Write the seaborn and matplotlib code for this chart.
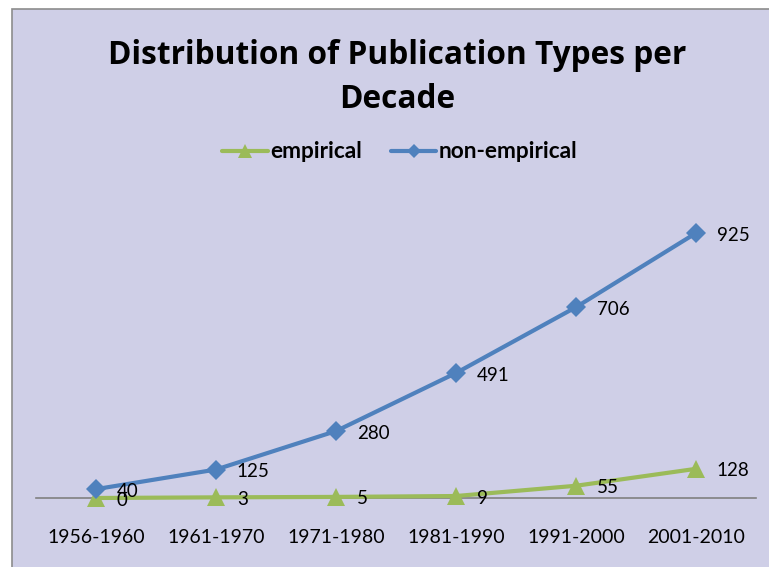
import matplotlib
matplotlib.use("Agg")
import matplotlib.pyplot as plt
import seaborn as sns
import numpy as np
import pandas as pd
from matplotlib.patches import Rectangle
from matplotlib.lines import Line2D

# values
decades = ["1956-1960", "1961-1970", "1971-1980", "1981-1990", "1991-2000", "2001-2010"]
empirical = [0, 3, 5, 9, 55, 128]
non_empirical = [40, 125, 280, 491, 706, 925]

green = "#9BBB59"
blue = "#4F81BD"
bg = "#CFCFE7"

df = pd.DataFrame({
    "decade": decades * 2,
    "count": empirical + non_empirical,
    "type": ["empirical"] * len(decades) + ["non-empirical"] * len(decades),
})
df["pos"] = list(range(len(decades))) * 2

sns.set_style("white")
plt.rcParams["font.family"] = ["Lato", "DejaVu Sans"]
plt.rcParams["text.color"] = "black"
plt.rcParams["xtick.color"] = "black"

fig = plt.figure(figsize=(7.69, 5.67), dpi=100, facecolor="white")
# chart area panel with border (runs past right edge like the screenshot)
panel = Rectangle((12 / 769, -0.01), 1.0, 1 - 9 / 567 + 0.01,
                  transform=fig.transFigure, facecolor=bg,
                  edgecolor="#8C8C8C", linewidth=1.2, zorder=-5)
fig.patches.append(panel)

ax = fig.add_axes([36 / 769, 69 / 567, 720 / 769, 285 / 567])
ax.set_facecolor("none")
ax.set_zorder(2)

# the picture's vertical spacing grows with the value; a mild quadratic scale follows it
k = 3.36e-4
def fwd(v):
    v = np.asarray(v, dtype=float)
    return v + k * v * np.abs(v)
def inv(f):
    f = np.asarray(f, dtype=float)
    return np.sign(f) * (np.sqrt(1 + 4 * k * np.abs(f)) - 1) / (2 * k)
ax.set_yscale("function", functions=(fwd, inv))

sns.lineplot(data=df, x="pos", y="count", hue="type", style="type",
             palette={"empirical": green, "non-empirical": blue},
             markers={"empirical": "^", "non-empirical": "D"},
             dashes=False, markersize=10, linewidth=3.0,
             markeredgewidth=0, ax=ax, legend=False, zorder=3)
for ln in ax.lines:
    ln.set_clip_on(False)
    if ln.get_marker() == "^":
        ln.set_markersize(12.5)

for s in [empirical, non_empirical]:
    for i, v in enumerate(s):
        ax.annotate(str(v), (i, v), xytext=(15, -1.5), textcoords="offset points",
                    ha="left", va="center", fontsize=13.5, color="black", zorder=4)

ax.set_xlim(-0.5, len(decades) - 0.5)
ax.set_ylim(0, 981)
ax.set_xticks(range(len(decades)))
ax.set_xticklabels(decades, fontsize=14)
ax.tick_params(axis="x", length=0, pad=22)
ax.set_yticks([])
ax.minorticks_off()
ax.set_xlabel("")
ax.set_ylabel("")
for sp in ["top", "right", "left"]:
    ax.spines[sp].set_visible(False)
ax.spines["bottom"].set_color("#808080")
ax.spines["bottom"].set_linewidth(1.2)
ax.spines["bottom"].set_zorder(1)

title_font = ["Open Sans", "Lato", "DejaVu Sans"]
fig.text(0.517, 1 - 56 / 567, "Distribution of Publication Types per",
         ha="center", va="center", fontsize=22.8, fontweight="bold", family=title_font)
fig.text(0.517, 1 - 100 / 567, "Decade", ha="center", va="center",
         fontsize=22.8, fontweight="bold", family=title_font)

handles = [Line2D([], [], color=green, marker="^", lw=3.0, ms=10, mew=0),
           Line2D([], [], color=blue, marker="D", lw=3.0, ms=7.5, mew=0)]
fig.legend(handles, ["empirical", "non-empirical"], loc="center",
           bbox_to_anchor=(0.52, 1 - 152 / 567), ncol=2, frameon=False,
           prop={"weight": "bold", "size": 16.3}, handlelength=2.0,
           handletextpad=0.1, columnspacing=1.3)

fig.savefig("out.png", dpi=100, facecolor="white")
